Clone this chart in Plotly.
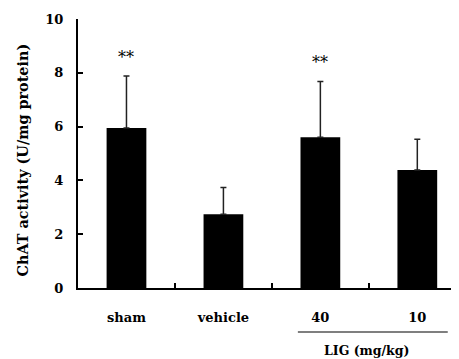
import plotly.graph_objects as go

categories = ["sham", "vehicle", "40", "10"]
values = [5.95, 2.74, 5.60, 4.39]
errors = [1.93, 1.00, 2.08, 1.14]
stars = ["**", "", "**", ""]
y_ticks = [0, 2, 4, 6, 8, 10]

FONT = "DejaVu Serif"

# the page body has an 8px margin; size the figure to fit the window from there
W, H = 451, 351
L, T = 70, 11
PLOT_B = 280
B = H - PLOT_B
PH = PLOT_B - T

fig = go.Figure()
fig.add_trace(go.Bar(
    x=categories, y=values, width=0.41,
    marker=dict(color="black", line=dict(width=0)),
    error_y=dict(type="data", array=errors, arrayminus=[0] * len(errors),
                 symmetric=False, color="#222222", thickness=1.5, width=3),
))

for i, (v, e, s) in enumerate(zip(values, errors, stars)):
    if s:
        fig.add_annotation(x=i, y=v + e, text=s, showarrow=False, yshift=19,
                           font=dict(family=FONT, size=16, color="#000000"),
                           xanchor="center", yanchor="middle")

fig.add_shape(type="line", xref="x", yref="paper", x0=1.768, x1=3.314,
              y0=-44 / PH, y1=-44 / PH, line=dict(color="black", width=1.2))
fig.add_annotation(xref="x", yref="paper", x=2.474, y=-62 / PH, text="<b>LIG (mg/kg)</b>",
                   showarrow=False, font=dict(family=FONT, size=12.5, color="black"),
                   xanchor="center", yanchor="middle")
fig.add_annotation(xref="paper", yref="paper", x=(22 - 78) / (W - L), y=(288 - 160.5) / PH,
                   text="<b>ChAT activity (U/mg protein)</b>", textangle=-90,
                   showarrow=False, font=dict(family=FONT, size=14.4, color="black"),
                   xanchor="center", yanchor="middle")

fig.update_layout(
    width=W, height=H,
    margin=dict(l=L, r=0, t=T, b=B, autoexpand=False),
    paper_bgcolor="white", plot_bgcolor="white",
    showlegend=False,
    xaxis=dict(type="category", range=[-0.5, 3.43], tickson="boundaries",
               ticks="inside", ticklen=5, tickwidth=1.5, tickcolor="black",
               showline=True, linecolor="black", linewidth=2, showgrid=False,
               tickfont=dict(family=FONT, size=13, color="black", weight="bold"),
               ticklabelstandoff=16, zeroline=False),
    yaxis=dict(range=[0, 10], tickvals=y_ticks, ticks="inside", ticklen=5,
               tickwidth=1.5, tickcolor="black", showline=True, linecolor="black",
               linewidth=2, showgrid=False, zeroline=False,
               tickfont=dict(family=FONT, size=13, color="black", weight="bold"),
               ticklabelstandoff=10),
)

fig.write_html("out.html")
